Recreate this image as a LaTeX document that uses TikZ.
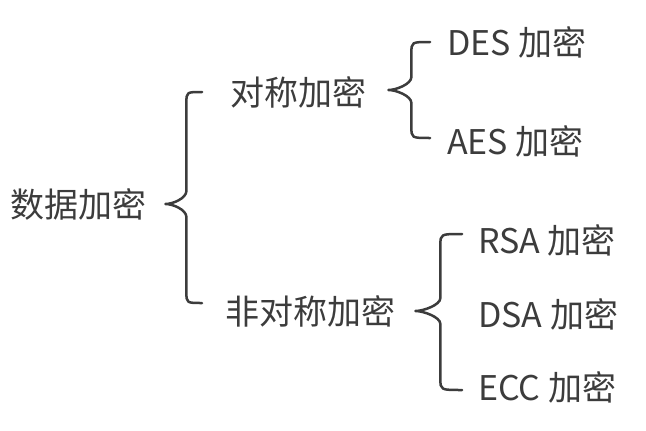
\documentclass[tikz,border=0pt]{standalone}
\usepackage{fontspec}
\setmainfont{Noto Sans CJK SC}
\usepackage{tikz}
\usetikzlibrary{calc}
\definecolor{ink}{HTML}{3C3C3C}

% tip, top end, bottom end, depth
\newcommand{\drawbrace}[4]{%
  \draw[brace] let \p1=#1, \p2=#2, \p3=#3 in
    (\p2) .. controls ({\x1+#4},\y2) .. ({\x1+#4},{\y2-11pt})
    -- ({\x1+#4},{\y1+13pt}) .. controls ({\x1+#4},{\y1+6pt}) and ({\x1+8pt},\y1) .. (\p1)
    .. controls ({\x1+8pt},\y1) and ({\x1+#4},{\y1-6pt}) .. ({\x1+#4},{\y1-13pt})
    -- ({\x1+#4},{\y3+11pt}) .. controls ({\x1+#4},\y3) .. (\p3);}

\begin{document}
\begin{tikzpicture}
    [
    x=1pt, y=-1pt,
    item/.style={anchor=west,inner sep=0pt,text=ink,font=\fontsize{34}{40}\selectfont},
    brace/.style={draw=ink,line width=2.5pt,line cap=round,line join=round},
    ]
    \useasboundingbox (0,0) rectangle (646,431);
    \node (data) at (10,204) [item] {数据加密};
    \node (sym) at (230,92) [item] {对称加密};
    \node (asym) at (225,311) [item] {非对称加密};
    \node (des) at (447,42) [item] {DES 加密};
    \node (aes) at (447,141) [item] {AES 加密};
    \node (rsa) at (478,240) [item] {RSA 加密};
    \node (dsa) at (478,314) [item] {DSA 加密};
    \node (ecc) at (478,387) [item] {ECC 加密};

    \drawbrace{([xshift=19pt]data.east)}{([xshift=-28pt]sym.west)}{([xshift=-23pt,yshift=8pt]asym.west)}{21pt}
    \drawbrace{([xshift=22pt,yshift=2pt]sym.east)}{([xshift=-17pt]des.west)}{([xshift=-17pt,yshift=3pt]aes.west)}{23pt}
    \drawbrace{([xshift=20pt]asym.east)}{([xshift=-16pt,yshift=6pt]rsa.west)}{([xshift=-16pt,yshift=-3pt]ecc.west)}{25pt}
\end{tikzpicture}
\end{document}
